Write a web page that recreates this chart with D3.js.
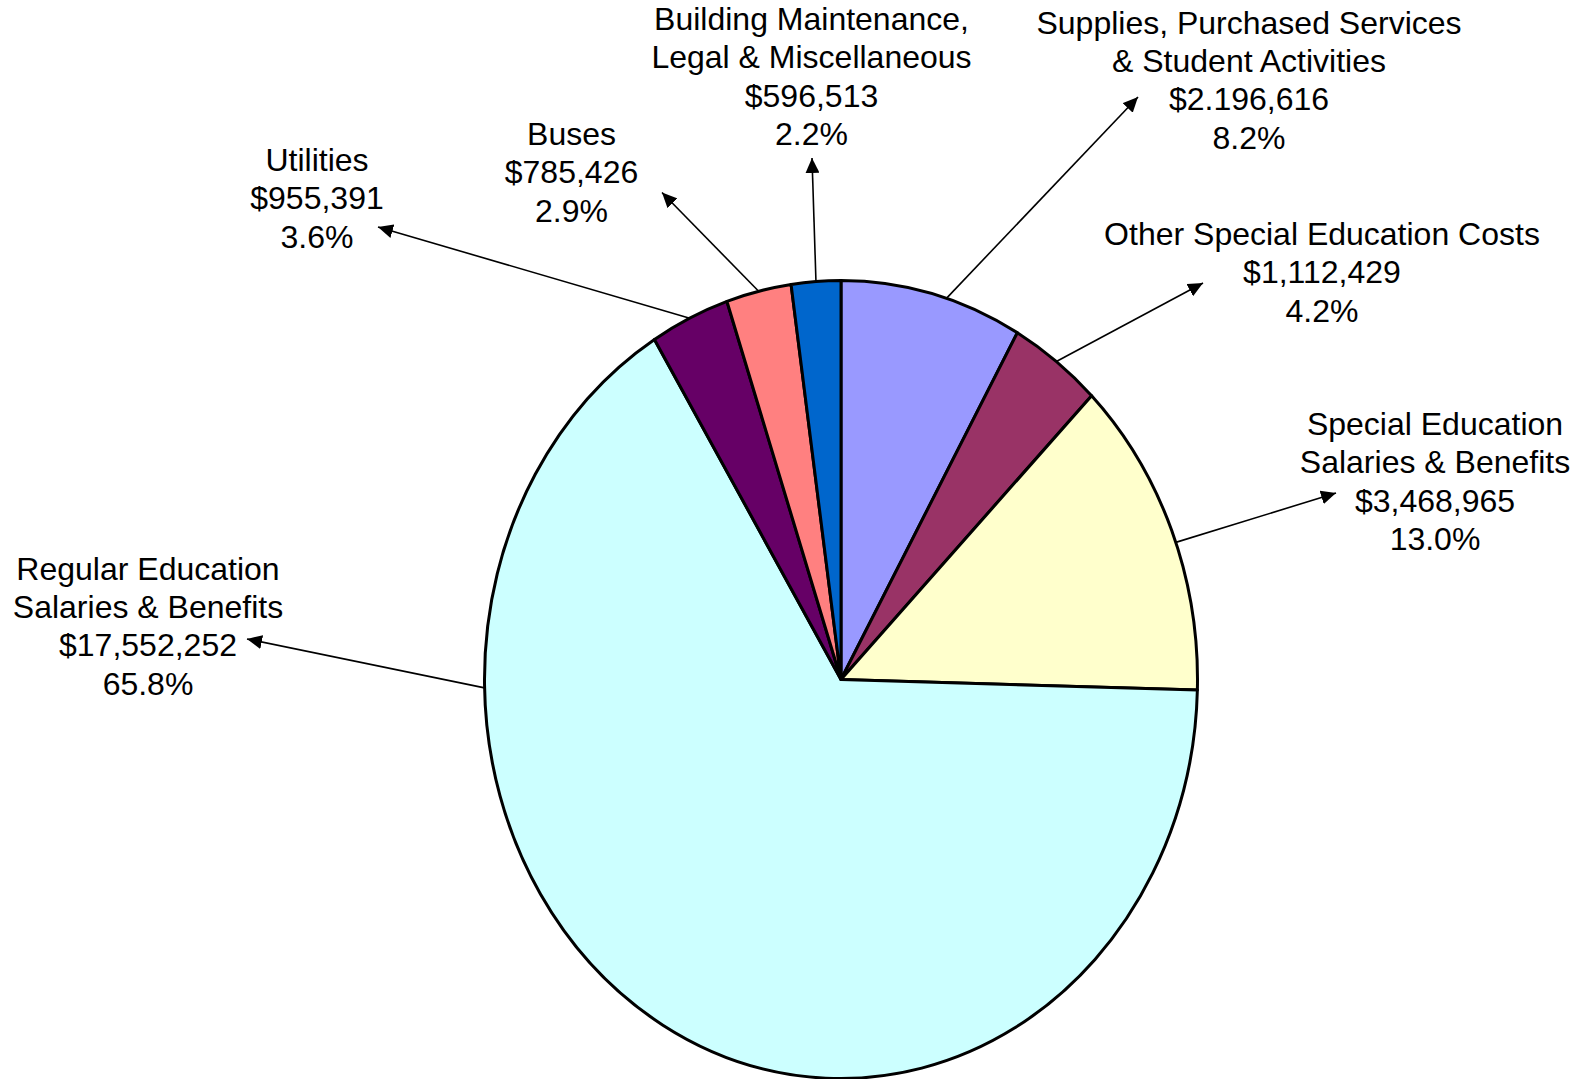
<!DOCTYPE html>
<html lang="en">
<head>
    <meta charset="UTF-8">
    <title>Budget Pie Chart</title>
    <script src="https://d3js.org/d3.v7.min.js"></script>
    <style>
        body {
            margin: 0;
            background: #ffffff;
        }
        .label {
            font-family: "Liberation Sans", Arial, sans-serif;
            font-size: 32px;
            fill: #000000;
        }
        .slice {
            stroke: #000000;
            stroke-width: 3;
            stroke-linejoin: round;
            vector-effect: non-scaling-stroke;
        }
        .leader {
            stroke: #000000;
            stroke-width: 1.6;
            fill: none;
        }
    </style>
</head>
<body>
    <svg id="chart" width="1579" height="1079"></svg>

    <script>
        const width = 1579;
        const height = 1079;

        // Data, clockwise from 12 o'clock
        const categories = [
            ["Supplies, Purchased Services", "& Student Activities"],
            ["Other Special Education Costs"],
            ["Special Education", "Salaries & Benefits"],
            ["Regular Education", "Salaries & Benefits"],
            ["Utilities"],
            ["Buses"],
            ["Building Maintenance,", "Legal & Miscellaneous"]
        ];
        const values = [2196616, 1112429, 3468965, 17552252, 955391, 785426, 596513];
        // amounts as printed on the chart (one has a typo in the source)
        const valueLabels = ["$2.196,616", "$1,112,429", "$3,468,965", "$17,552,252", "$955,391", "$785,426", "$596,513"];
        const colors = ["#9999ff", "#993366", "#ffffcc", "#ccffff", "#660066", "#ff8080", "#0066cc"];

        // label placement: centre x, first baseline y, arrow tip, optional leader angle (deg)
        const labelLayout = [
            { x: 1249, y: 33.5, tipX: 1138, tipY: 97, angle: 17.2 },
            { x: 1322, y: 245, tipX: 1203, tipY: 283 },
            { x: 1435, y: 435, tipX: 1336, tipY: 493, angle: 69.9 },
            { x: 148, y: 579.5, tipX: 247, tipY: 639, angle: 268.8 },
            { x: 317, y: 171, tipX: 378, tipY: 227 },
            { x: 571.5, y: 145, tipX: 662, tipY: 192.5 },
            { x: 811.5, y: 30, tipX: 812, tipY: 158 }
        ];

        const cx = 841, cy = 679.5;
        const rx = 356.5, ry = 399;
        const lineHeight = 38.4;

        const svg = d3.select("#chart");

        const data = values.map((v, i) => ({
            value: v,
            name: categories[i],
            amount: valueLabels[i],
            color: colors[i],
            layout: labelLayout[i]
        }));

        const total = d3.sum(values);
        const pct = d3.format(".1%");

        const pie = d3.pie()
            .value(d => d.value)
            .sort(null);

        const arcs = pie(data);

        const arc = d3.arc()
            .innerRadius(0)
            .outerRadius(ry);

        // pie is drawn as a circle and squeezed horizontally into an ellipse
        svg.append("g")
            .attr("transform", `translate(${cx},${cy}) scale(${rx / ry},1)`)
          .selectAll("path")
            .data(arcs)
            .enter().append("path")
            .attr("class", "slice")
            .attr("fill", d => d.data.color)
            .attr("d", arc);

        // arrow marker
        svg.append("defs").append("marker")
            .attr("id", "arrow")
            .attr("markerUnits", "userSpaceOnUse")
            .attr("viewBox", "0 0 15 14")
            .attr("refX", 15)
            .attr("refY", 7)
            .attr("markerWidth", 15)
            .attr("markerHeight", 14)
            .attr("orient", "auto")
          .append("path")
            .attr("d", "M0,0 L15,7 L0,14 Z")
            .attr("fill", "#000");

        const ellipsePoint = deg => {
            const t = deg * Math.PI / 180;
            return [cx + rx * Math.sin(t), cy - ry * Math.cos(t)];
        };

        // leader lines
        svg.append("g")
            .selectAll("line")
            .data(arcs)
            .enter().append("line")
            .attr("class", "leader")
            .attr("marker-end", "url(#arrow)")
            .each(function(d) {
                const lay = d.data.layout;
                const deg = lay.angle !== undefined ? lay.angle : (d.startAngle + d.endAngle) / 2 * 180 / Math.PI;
                const p = ellipsePoint(deg);
                d3.select(this)
                    .attr("x1", p[0])
                    .attr("y1", p[1])
                    .attr("x2", lay.tipX)
                    .attr("y2", lay.tipY);
            });

        // labels
        const labels = svg.append("g")
            .selectAll("text")
            .data(arcs)
            .enter().append("text")
            .attr("class", "label")
            .attr("text-anchor", "middle")
            .attr("x", d => d.data.layout.x)
            .attr("y", d => d.data.layout.y);

        labels.each(function(d) {
            const lines = d.data.name.concat([d.data.amount, pct(d.data.value / total)]);
            d3.select(this).selectAll("tspan")
                .data(lines)
                .enter().append("tspan")
                .attr("x", d.data.layout.x)
                .attr("dy", (l, i) => i === 0 ? 0 : lineHeight)
                .text(l => l);
        });
    </script>
</body>
</html>
